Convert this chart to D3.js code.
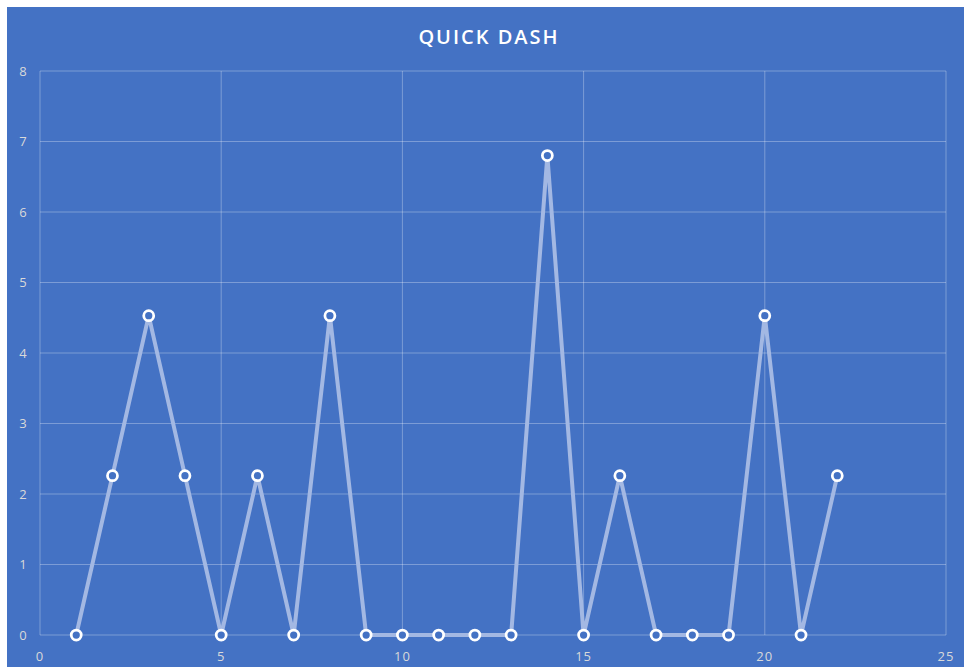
<!DOCTYPE html>
<html><head><meta charset="utf-8">
<script src="https://cdn.jsdelivr.net/npm/d3@7"></script>
<style>
html,body{margin:0;padding:0;background:#fff;}
svg{display:block;}
</style></head>
<body>
<svg id="chart" width="964" height="667"></svg>
<script>
const title = "QUICK DASH";
const xValues = [1,2,3,4,5,6,7,8,9,10,11,12,13,14,15,16,17,18,19,20,21,22];
const yValues = [0,2.26,4.53,2.26,0,2.26,0,4.53,0,0,0,0,0,6.8,0,2.26,0,0,0,4.53,0,2.26];
const xTicks = [0,5,10,15,20,25];
const yTicks = [0,1,2,3,4,5,6,7,8];

const data = xValues.map((x,i)=>({x, y:yValues[i]}));
const svg = d3.select("#chart");
const bg = "#4472C4";
svg.append("rect").attr("x",7).attr("y",7).attr("width",957).attr("height",660).attr("fill",bg);

const x = d3.scaleLinear().domain([0,25]).range([40,946]);
const y = d3.scaleLinear().domain([0,8]).range([635,71]);

const grid = svg.append("g");
grid.selectAll("line.h").data(yTicks).join("line")
  .attr("x1",x(0)).attr("x2",x(25)).attr("y1",d=>y(d)).attr("y2",d=>y(d))
  .attr("stroke","rgba(255,255,255,0.3)").attr("stroke-width",1);
grid.selectAll("line.v").data(xTicks).join("line")
  .attr("y1",y(0)).attr("y2",y(8)).attr("x1",d=>x(d)).attr("x2",d=>x(d))
  .attr("stroke","rgba(255,255,255,0.3)").attr("stroke-width",1);

const font = "'Open Sans', 'Liberation Sans', sans-serif";
svg.append("g").selectAll("text").data(yTicks).join("text")
  .attr("x",23).attr("y",d=>y(d)).attr("dy","0.35em")
  .attr("text-anchor","middle").attr("fill","#d9d9d9")
  .attr("font-family",font).attr("font-size",13).text(d=>d);
svg.append("g").selectAll("text").data(xTicks).join("text")
  .attr("x",d=>x(d)).attr("y",656).attr("dy","0.35em")
  .attr("text-anchor","middle").attr("fill","#d9d9d9")
  .attr("font-family",font).attr("font-size",13).attr("letter-spacing",1).text(d=>d);

svg.append("text").attr("x",489).attr("y",37).attr("dy","0.35em")
  .attr("text-anchor","middle").attr("fill","#ffffff")
  .attr("font-family",font).attr("font-weight",600).attr("font-size",20)
  .attr("letter-spacing",2).text(title);

const line = d3.line().x(d=>x(d.x)).y(d=>y(d.y));
svg.append("path").datum(data).attr("d",line)
  .attr("fill","none").attr("stroke","#a3b8e3").attr("stroke-width",4)
  .attr("stroke-linejoin","round");

svg.append("g").selectAll("circle").data(data).join("circle")
  .attr("cx",d=>x(d.x)).attr("cy",d=>y(d.y)).attr("r",5)
  .attr("fill",bg).attr("stroke","#ffffff").attr("stroke-width",2.75);
</script>
</body></html>
